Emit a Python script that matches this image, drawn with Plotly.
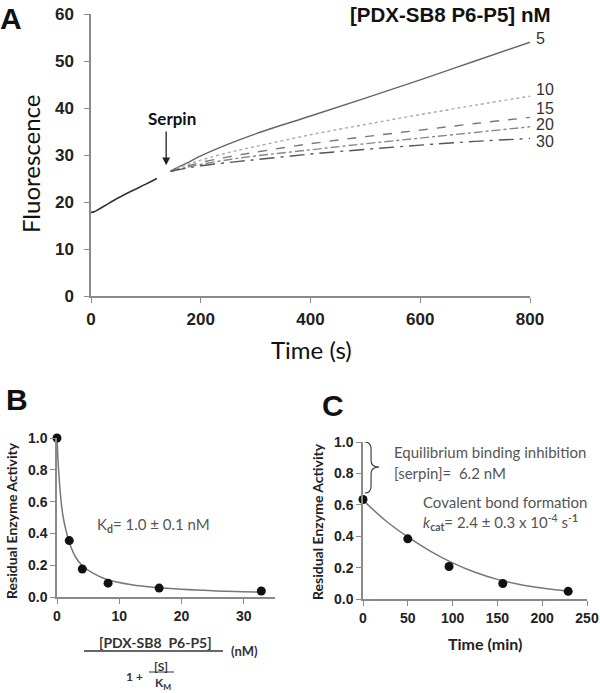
import plotly.graph_objects as go

# ---------------- Data ----------------
# Panel A: baseline before serpin addition
base_t = [0, 5, 12, 25, 50, 75, 100, 120]
base_f = [17.8, 17.9, 18.3, 19.2, 20.9, 22.4, 23.8, 25.0]

# Panel A: traces after serpin addition, per concentration (nM)
conc_labels = ["5", "10", "15", "20", "30"]
trace_t = [145, 175, 200, 250, 300, 400, 500, 600, 700, 800]
trace_5 = [26.6, 28.3, 29.8, 32.3, 34.5, 38.3, 42.1, 46.0, 50.0, 54.0]
trace_10 = [26.6, 27.9, 28.9, 30.5, 31.8, 34.3, 36.5, 38.6, 40.6, 42.5]
trace_15 = [26.5, 27.6, 28.4, 29.6, 30.6, 32.4, 33.9, 35.3, 36.7, 38.0]
trace_20 = [26.5, 27.4, 28.0, 29.0, 29.8, 31.1, 32.4, 33.6, 34.8, 36.0]
trace_30 = [26.5, 27.2, 27.7, 28.4, 29.0, 30.2, 31.2, 32.1, 32.9, 33.5]
label_y = [54.7, 44.0, 39.9, 36.5, 32.9]

# Panel B: residual activity vs effective inhibitor concentration
b_x = [0, 1.97, 4.06, 8.2, 16.4, 32.8]
b_y = [1.0, 0.355, 0.176, 0.087, 0.056, 0.038]
b_fit_x = [0, 0.25, 0.5, 0.75, 1.0, 1.5, 2.0, 3.0, 4.0, 6.0, 8.0, 12.0, 16.0, 20.0, 25.0, 33.0]
b_fit_y = [1.0, 0.80, 0.67, 0.57, 0.50, 0.41, 0.34, 0.25, 0.20, 0.145, 0.11, 0.077, 0.059, 0.048, 0.039, 0.030]

# Panel C: residual activity vs time
c_t = [0, 50, 96, 156, 229]
c_y = [0.634, 0.383, 0.207, 0.099, 0.049]
c_fit_t = [0, 25, 50, 75, 100, 125, 150, 175, 200, 230]
c_fit_y = [0.63, 0.50, 0.395, 0.305, 0.23, 0.17, 0.125, 0.093, 0.07, 0.05]

# ---------------- Styles ----------------
W, H = 600, 693
def px(x):
    return x / W
def py(y):
    return 1 - y / H

axis_col = "#8a8a8a"
tick_font_A = dict(family="Liberation Sans", size=17, color="#222", weight="bold")
tick_font_BC = dict(family="Liberation Sans", size=14, color="#222", weight="bold")

fig = go.Figure()

# Panel A
fig.add_trace(go.Scatter(x=base_t, y=base_f, mode="lines", line=dict(color="#333", width=1.6, shape="spline"),
                         xaxis="x", yaxis="y", showlegend=False))
styles = [
    dict(color="#666", width=1.4, dash="solid"),
    dict(color="#aaa", width=1.4, dash="dot"),
    dict(color="#777", width=1.4, dash="dash"),
    dict(color="#888", width=1.4, dash="dashdot"),
    dict(color="#555", width=1.4, dash="longdashdot"),
]
for ys, st in zip([trace_5, trace_10, trace_15, trace_20, trace_30], styles):
    fig.add_trace(go.Scatter(x=trace_t, y=ys, mode="lines", line=dict(shape="spline", **st),
                             xaxis="x", yaxis="y", showlegend=False))

# Panel B
fig.add_trace(go.Scatter(x=b_fit_x, y=b_fit_y, mode="lines", line=dict(color="#777", width=1.5, shape="spline"),
                         xaxis="x2", yaxis="y2", showlegend=False))
fig.add_trace(go.Scatter(x=b_x, y=b_y, mode="markers", marker=dict(color="#111", size=9),
                         xaxis="x2", yaxis="y2", showlegend=False, cliponaxis=False))

# Panel C
fig.add_trace(go.Scatter(x=c_fit_t, y=c_fit_y, mode="lines", line=dict(color="#777", width=1.5, shape="spline"),
                         xaxis="x3", yaxis="y3", showlegend=False))
fig.add_trace(go.Scatter(x=c_t, y=c_y, mode="markers", marker=dict(color="#111", size=9),
                         xaxis="x3", yaxis="y3", showlegend=False, cliponaxis=False))

common = dict(showgrid=False, zeroline=False, showline=True, linecolor=axis_col, linewidth=1.5,
              ticks="outside", ticklen=5, tickcolor=axis_col, tickwidth=1.2)

fig.update_layout(
    width=W, height=H, margin=dict(l=0, r=0, t=0, b=0, autoexpand=False),
    paper_bgcolor="white", plot_bgcolor="white",
    xaxis=dict(domain=[px(91), px(530)], range=[0, 800], tickvals=[0, 200, 400, 600, 800],
               tickfont=tick_font_A, anchor="y", ticklabelstandoff=2, **common),
    yaxis=dict(domain=[py(296), py(14)], range=[0, 60], tickvals=[0, 10, 20, 30, 40, 50, 60],
               tickfont=tick_font_A, anchor="x", ticklabelstandoff=7, **common),
    xaxis2=dict(domain=[px(57), px(275)], range=[0, 35], tickvals=[0, 10, 20, 30],
                tickfont=tick_font_BC, anchor="y2", **common),
    yaxis2=dict(domain=[py(597), py(438)], range=[0, 1.0], tickvals=[0, 0.2, 0.4, 0.6, 0.8, 1.0],
                tickformat=".1f", tickfont=tick_font_BC, anchor="x2", **common),
    xaxis3=dict(domain=[px(363), px(587)], range=[0, 250], tickvals=[0, 50, 100, 150, 200, 250],
                tickfont=tick_font_BC, anchor="y3", **common),
    yaxis3=dict(domain=[py(599), py(442)], range=[0, 1.0], tickvals=[0, 0.2, 0.4, 0.6, 0.8, 1.0],
                tickformat=".1f", tickfont=tick_font_BC, anchor="x3", **common),
)

ann = []
def A(text, x, y, size, bold=False, family="Liberation Sans", color="#111", xanchor="center", **kw):
    t = f"<b>{text}</b>" if bold else text
    ann.append(dict(text=t, x=x, y=y, xref="paper", yref="paper", xanchor=xanchor, yanchor="middle",
                    showarrow=False, font=dict(family=family, size=size, color=color), **kw))

# Panel letters
A("A", px(11), py(18), 30, bold=True)
A("B", px(17), py(400), 30, bold=True)
A("C", px(333), py(405), 30, bold=True)

# Panel A texts
A("[PDX-SB8 P6-P5] nM", px(552), py(14), 20.5, bold=True, family="Liberation Sans", xanchor="right")
A("Fluorescence", px(30), py(164), 24, family="Lato", color="#111", textangle=-90)
A("Time (s)", px(311), py(349), 24, family="Lato", color="#111")

for lab, ly in zip(conc_labels, label_y):
    ann.append(dict(text=lab, x=px(534), y=ly, xref="paper", yref="y", xanchor="left", yanchor="middle",
                    showarrow=False, font=dict(family="Liberation Sans", size=16, color="#333")))

ann.append(dict(text="<b>Serpin</b>", x=148, y=37.8, xref="x", yref="y", showarrow=False,
                font=dict(family="Lato", size=17, color="#111")))
ann.append(dict(x=137, y=27.8, ax=137, ay=35.3, xref="x", yref="y", axref="x", ayref="y",
                text="", showarrow=True, arrowhead=2, arrowsize=1.2, arrowwidth=1.3, arrowcolor="#222"))

# Panel B texts
A("Residual Enzyme Activity", px(11), py(521), 14, bold=True, family="Lato", color="#222", textangle=-90)
A("K<sub><b>d</b></sub>= 1.0 ± 0.1 nM", px(153), py(525), 15, family="Lato", color="#555")
A("[PDX-SB8  P6-P5]", px(155), py(642), 14, bold=True, family="Lato", color="#333")
A("(nM)", px(244), py(651), 13, bold=True, family="Lato", color="#333")
A("1 +", px(134), py(676), 12, bold=True, family="Lato", color="#333")
A("[S]", px(161), py(666), 12, bold=True, family="Lato", color="#333")
A("K<sub>M</sub>", px(163), py(683), 12, bold=True, family="Lato", color="#333")

# Panel C texts
A("Residual Enzyme Activity", px(317), py(522), 14, bold=True, family="Lato", color="#222", textangle=-90)
A("Time (min)", px(485), py(643), 16, bold=True, family="Lato", color="#222")
A("Equilibrium binding inhibition", px(392), py(452), 15, family="Lato", color="#555", xanchor="left")
A("[serpin]=  6.2 nM", px(392), py(473), 15, family="Lato", color="#555", xanchor="left")
A("Covalent bond formation", px(421), py(502), 15, family="Lato", color="#555", xanchor="left")
A("<i>k</i><sub><b>cat</b></sub>= 2.4 ± 0.3 x 10<sup>-4</sup> s<sup>-<b>1</b></sup>", px(421), py(522), 15,
  family="Lato", color="#555", xanchor="left")

fig.update_layout(annotations=ann)

shapes = [
    # main fraction bar (B x-axis title)
    dict(type="line", xref="paper", yref="paper", x0=px(84), x1=px(223), y0=py(651), y1=py(651),
         line=dict(color="#333", width=1.3)),
    # small fraction bar
    dict(type="line", xref="paper", yref="paper", x0=px(149), x1=px(174), y0=py(672), y1=py(672),
         line=dict(color="#333", width=1)),
    # brace in panel C
    dict(type="path", xref="x3", yref="y3",
         path="M 2,1.0 Q 9,1.0 9,0.95 L 9,0.88 Q 9,0.84 18,0.84 Q 9,0.84 9,0.80 L 9,0.72 Q 9,0.675 2,0.675",
         line=dict(color="#444", width=1.2)),
]
fig.update_layout(shapes=shapes)

fig.write_html("out.html", config={"displayModeBar": False})

# remove the default page margin so the 600x693 figure fills the window exactly
with open("out.html", "r", encoding="utf-8") as f:
    html = f.read()
html = html.replace("<head>", "<head><style>html,body{margin:0;padding:0;overflow:hidden;}</style>", 1)
with open("out.html", "w", encoding="utf-8") as f:
    f.write(html)
